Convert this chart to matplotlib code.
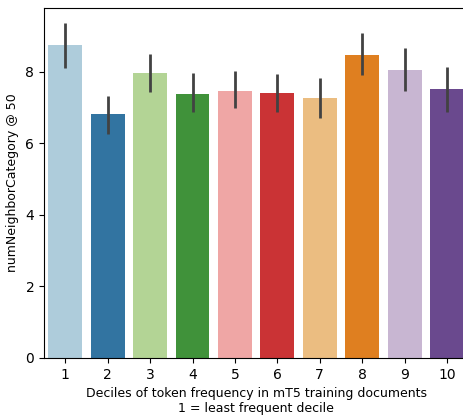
import colorsys
import matplotlib
matplotlib.use('Agg')
from matplotlib import pyplot as plt
import matplotlib.colors as mcolors

deciles = ['1', '2', '3', '4', '5', '6', '7', '8', '9', '10']
means = [8.76, 6.81, 7.96, 7.39, 7.47, 7.40, 7.27, 8.46, 8.04, 7.52]
ci_low = [8.12, 6.26, 7.45, 6.87, 6.98, 6.87, 6.70, 7.91, 7.48, 6.89]
ci_high = [9.36, 7.33, 8.49, 7.98, 8.02, 7.93, 7.84, 9.08, 8.66, 8.15]

paired = ['#a6cee3', '#1f78b4', '#b2df8a', '#33a02c', '#fb9a99',
          '#e31a1c', '#fdbf6f', '#ff7f00', '#cab2d6', '#6a3d9a']


def desat(c, prop=0.75):
    # same idea as seaborn's default desaturation of bar colours
    h, l, s = colorsys.rgb_to_hls(*mcolors.to_rgb(c))
    return colorsys.hls_to_rgb(h, l, s * prop)


colors = [desat(c) for c in paired]

fig = plt.figure(figsize=(4.64, 4.17), dpi=100)
ax = fig.add_axes([0.095, 0.1415, 0.914, 0.8395])

x = list(range(len(deciles)))
ax.bar(x, means, width=0.8, color=colors)
ax.vlines(x, ci_low, ci_high, color='#424242', lw=2.0)

ax.set_xlim(-0.5, 9.5)
ax.set_ylim(0, 9.79)
ax.set_xticks(x)
ax.set_xticklabels(deciles)
ax.set_yticks([0, 2, 4, 6, 8])
ax.tick_params(labelsize=10)
ax.set_xlabel('Deciles of token frequency in mT5 training documents\n1 = least frequent decile',
              fontsize=9, labelpad=4)
ax.set_ylabel('numNeighborCategory @ 50', fontsize=9, labelpad=5)

fig.savefig('out.png', dpi=100)
